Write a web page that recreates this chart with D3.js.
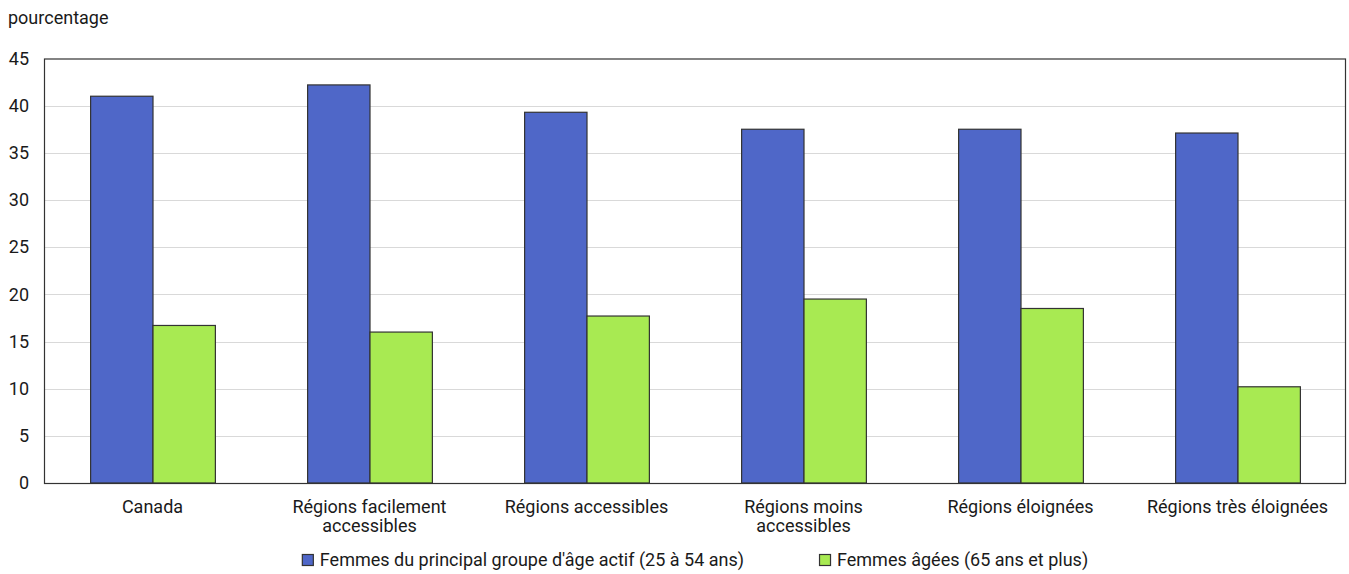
<!DOCTYPE html>
<html>
<head>
<meta charset="utf-8">
<script src="https://cdn.jsdelivr.net/npm/d3@7"></script>
<style>
  html, body { margin: 0; padding: 0; background: #fff; }
  svg { display: block; }
  text { font-family: Roboto, "Liberation Sans", Arial, sans-serif; fill: #1a1a1a; }
</style>
</head>
<body>
<svg id="chart" width="1349" height="574"></svg>
<script>
const categories = [
  ["Canada"],
  ["Régions facilement", "accessibles"],
  ["Régions accessibles"],
  ["Régions moins", "accessibles"],
  ["Régions éloignées"],
  ["Régions très éloignées"]
];
const seriesNames = [
  "Femmes du principal groupe d'âge actif (25 à 54 ans)",
  "Femmes âgées (65 ans et plus)"
];
const primeAge = [41.0, 42.2, 39.3, 37.5, 37.5, 37.1];
const senior = [16.7, 16.0, 17.7, 19.5, 18.5, 10.2];
const yTicks = [0, 5, 10, 15, 20, 25, 30, 35, 40, 45];
const yTitle = "pourcentage";

const colors = ["#4F67C8", "#A8EA52"];
const seriesValues = [primeAge, senior];

const svg = d3.select("#chart");
const m = { left: 44, right: 1346, top: 58.5, bottom: 483 };

const x0 = d3.scaleBand()
  .domain(d3.range(categories.length))
  .range([m.left, m.right])
  .paddingInner(0.425)
  .paddingOuter(0.2125);
const x1 = d3.scaleBand()
  .domain(d3.range(seriesNames.length))
  .range([0, x0.bandwidth()]);
const y = d3.scaleLinear().domain([0, 45]).range([m.bottom, m.top]);

// gridlines
svg.append("g")
  .selectAll("line")
  .data(yTicks.filter(t => t > 0 && t < 45))
  .join("line")
  .attr("x1", m.left).attr("x2", m.right)
  .attr("y1", d => Math.round(y(d)) + 0.5).attr("y2", d => Math.round(y(d)) + 0.5)
  .attr("stroke", "#d9d9d9").attr("stroke-width", 1.2);

// y axis labels
const yAxis = d3.axisLeft(y).tickValues(yTicks).tickSize(0).tickPadding(0);
const gy = svg.append("g").attr("transform", `translate(29,0)`).call(yAxis);
gy.select(".domain").remove();
gy.selectAll("text")
  .attr("x", 0)
  .style("font-family", "Roboto, 'Liberation Sans', Arial, sans-serif")
  .style("font-size", "18px")
  .attr("fill", "#1a1a1a");

// bars
const groups = svg.append("g")
  .selectAll("g")
  .data(categories.map((c, i) => i))
  .join("g")
  .attr("transform", i => `translate(${x0(i)},0)`);

groups.selectAll("rect")
  .data(i => seriesValues.map((s, k) => ({ k, v: s[i] })))
  .join("rect")
  .attr("x", d => x1(d.k) + 0.5)
  .attr("y", d => y(d.v))
  .attr("width", x1.bandwidth())
  .attr("height", d => y(0) - y(d.v))
  .attr("fill", d => colors[d.k])
  .attr("stroke", "#333")
  .attr("stroke-width", 1.2);

// frame
svg.append("rect")
  .attr("x", m.left + 0.5).attr("y", m.top + 0.5)
  .attr("width", m.right - m.left - 1).attr("height", m.bottom - m.top)
  .attr("fill", "none").attr("stroke", "#333").attr("stroke-width", 1.2);

// x axis category labels
const xl = svg.append("g");
categories.forEach((lines, i) => {
  lines.forEach((ln, j) => {
    xl.append("text")
      .attr("x", x0(i) + x0.bandwidth() / 2)
      .attr("y", 513 + j * 19)
      .attr("text-anchor", "middle")
      .style("font-size", "18px")
      .text(ln);
  });
});

// y title
svg.append("text")
  .attr("x", 8).attr("y", 24)
  .style("font-size", "18px")
  .text(yTitle);

// legend
const leg = svg.append("g");
const items = seriesNames.map((name, k) => {
  const g = leg.append("g");
  g.append("rect")
    .attr("x", 0.5).attr("y", -11.5)
    .attr("width", 11).attr("height", 11)
    .attr("fill", colors[k]).attr("stroke", "#333").attr("stroke-width", 1.2);
  const t = g.append("text")
    .attr("x", 18).attr("y", 0)
    .style("font-size", "18px")
    .text(name);
  return { g, w: 18 + t.node().getComputedTextLength() };
});
const gap = 75;
const total = items[0].w + gap + items[1].w;
let lx = (m.left + m.right) / 2 - total / 2;
items.forEach(it => {
  it.g.attr("transform", `translate(${lx},566)`);
  lx += it.w + gap;
});
</script>
</body>
</html>
